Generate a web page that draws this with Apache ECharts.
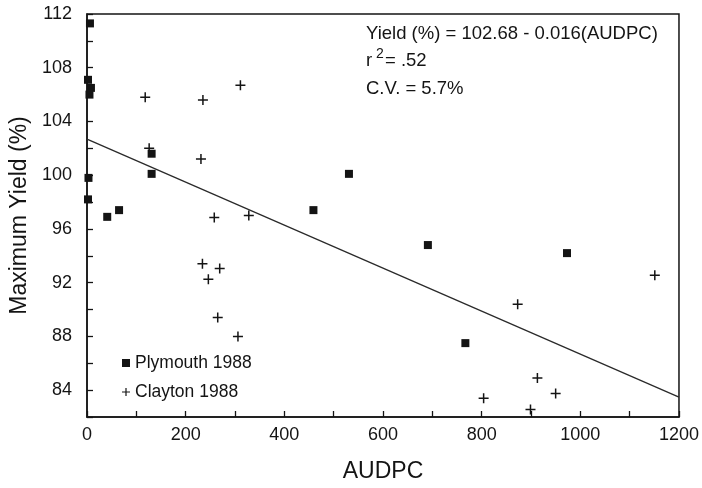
<!DOCTYPE html>
<html>
<head>
<meta charset="utf-8">
<script src="https://cdn.jsdelivr.net/npm/echarts@6/dist/echarts.min.js"></script>
<style>
html,body{margin:0;padding:0;background:#fff;}
#chart{width:702px;height:488px;}
</style>
</head>
<body>
<div id="chart"></div>
<script>
// ---- data ----
var plymouthX = [6, 2, 8, 5, 3, 2, 41, 65, 131, 131, 459, 531, 691, 767, 973];
var plymouthY = [111.3, 107.1, 106.5, 106.0, 99.8, 98.2, 96.9, 97.4, 101.6, 100.1, 97.4, 100.1, 94.8, 87.5, 94.2];

var claytonX = [118, 126, 235, 231, 311, 258, 328, 234, 269, 246, 265, 306, 804, 873, 899, 913, 950, 1151];
var claytonY = [105.8, 102.0, 105.6, 101.2, 106.7, 96.85, 97.0, 93.4, 93.05, 92.25, 89.4, 88.0, 83.4, 90.4, 82.55, 84.9, 83.75, 92.55];

// regression line endpoints (Yield = 102.68 - 0.016 AUDPC)
var fitX = [0, 1200];
var fitY = [102.68, 83.48];

var seriesNames = ['Plymouth 1988', 'Clayton 1988'];
var xTicks = [0, 200, 400, 600, 800, 1000, 1200];
var yTicks = [84, 88, 92, 96, 100, 104, 108, 112];

function pairs(xs, ys){ return xs.map(function(x,i){ return [x, ys[i]]; }); }

var FONT = '"Liberation Sans", Arial, Helvetica, sans-serif';
var INK = '#141414';
var plusPath = 'path://M4.25,0 H5.75 V4.25 H10 V5.75 H5.75 V10 H4.25 V5.75 H0 V4.25 H4.25 Z';

var chart = echarts.init(document.getElementById('chart'), null, {renderer:'canvas'});
chart.setOption({
  backgroundColor: '#fff',
  animation: false,
  grid: {left: 87, right: 15, top: 14, bottom: 67, show: true, borderColor: INK, borderWidth: 1.5, backgroundColor: 'transparent'},
  legend: {
    orient: 'vertical', left: 117, top: 349,
    itemWidth: 8, itemHeight: 8, itemGap: 11,
    textStyle: {fontFamily: FONT, fontSize: 17.5, color: INK},
    data: [
      {name: seriesNames[0], icon: 'rect'},
      {name: seriesNames[1], icon: plusPath}
    ]
  },
  xAxis: {
    type: 'value', min: 0, max: 1200, interval: 100,
    name: 'AUDPC', nameLocation: 'middle', nameGap: 43,
    nameTextStyle: {fontFamily: FONT, fontSize: 23, color: INK},
    axisLine: {show: true, onZero: false, lineStyle: {color: INK, width: 1.5}},
    axisTick: {show: true, inside: true, length: 6, lineStyle: {color: INK, width: 1.3}},
    axisLabel: {margin: 9, fontFamily: FONT, fontSize: 18, color: INK,
      formatter: function(v){ return xTicks.indexOf(v) >= 0 ? String(v) : ''; }},
    splitLine: {show: false}
  },
  yAxis: {
    type: 'value', min: 82, max: 112, interval: 2,
    name: 'Maximum Yield (%)', nameLocation: 'middle', nameGap: 54, nameRotate: 90,
    nameTextStyle: {fontFamily: FONT, fontSize: 23, color: INK},
    axisLine: {show: true, onZero: false, lineStyle: {color: INK, width: 1.5}},
    axisTick: {show: true, inside: true, length: 6, lineStyle: {color: INK, width: 1.3}},
    axisLabel: {margin: 15, fontFamily: FONT, fontSize: 18, color: INK,
      formatter: function(v){ return yTicks.indexOf(v) >= 0 ? String(v) : ''; }},
    splitLine: {show: false}
  },
  series: [
    {
      name: 'fit', type: 'line', data: pairs(fitX, fitY), symbol: 'none',
      lineStyle: {color: '#2a2a2a', width: 1.3}, silent: true, z: 1
    },
    {
      name: seriesNames[0], type: 'scatter', data: pairs(plymouthX, plymouthY),
      symbol: 'rect', symbolSize: 8, clip: false,
      itemStyle: {color: INK, opacity: 1}, z: 3
    },
    {
      name: seriesNames[1], type: 'scatter', data: pairs(claytonX, claytonY),
      symbol: plusPath, symbolSize: 10, clip: false,
      itemStyle: {color: INK, opacity: 1}, z: 3
    }
  ],
  graphic: [
    {type: 'text', left: 366, top: 24, style: {text: 'Yield (%) = 102.68 - 0.016(AUDPC)', font: '18.5px ' + FONT, fill: INK}},
    {type: 'text', left: 366, top: 51, style: {text: 'r', font: '18.5px ' + FONT, fill: INK}},
    {type: 'text', left: 376, top: 47, style: {text: '2', font: '14px ' + FONT, fill: INK}},
    {type: 'text', left: 385, top: 51, style: {text: '= .52', font: '18.5px ' + FONT, fill: INK}},
    {type: 'text', left: 366, top: 79, style: {text: 'C.V. = 5.7%', font: '18.5px ' + FONT, fill: INK}}
  ]
});
</script>
</body>
</html>
